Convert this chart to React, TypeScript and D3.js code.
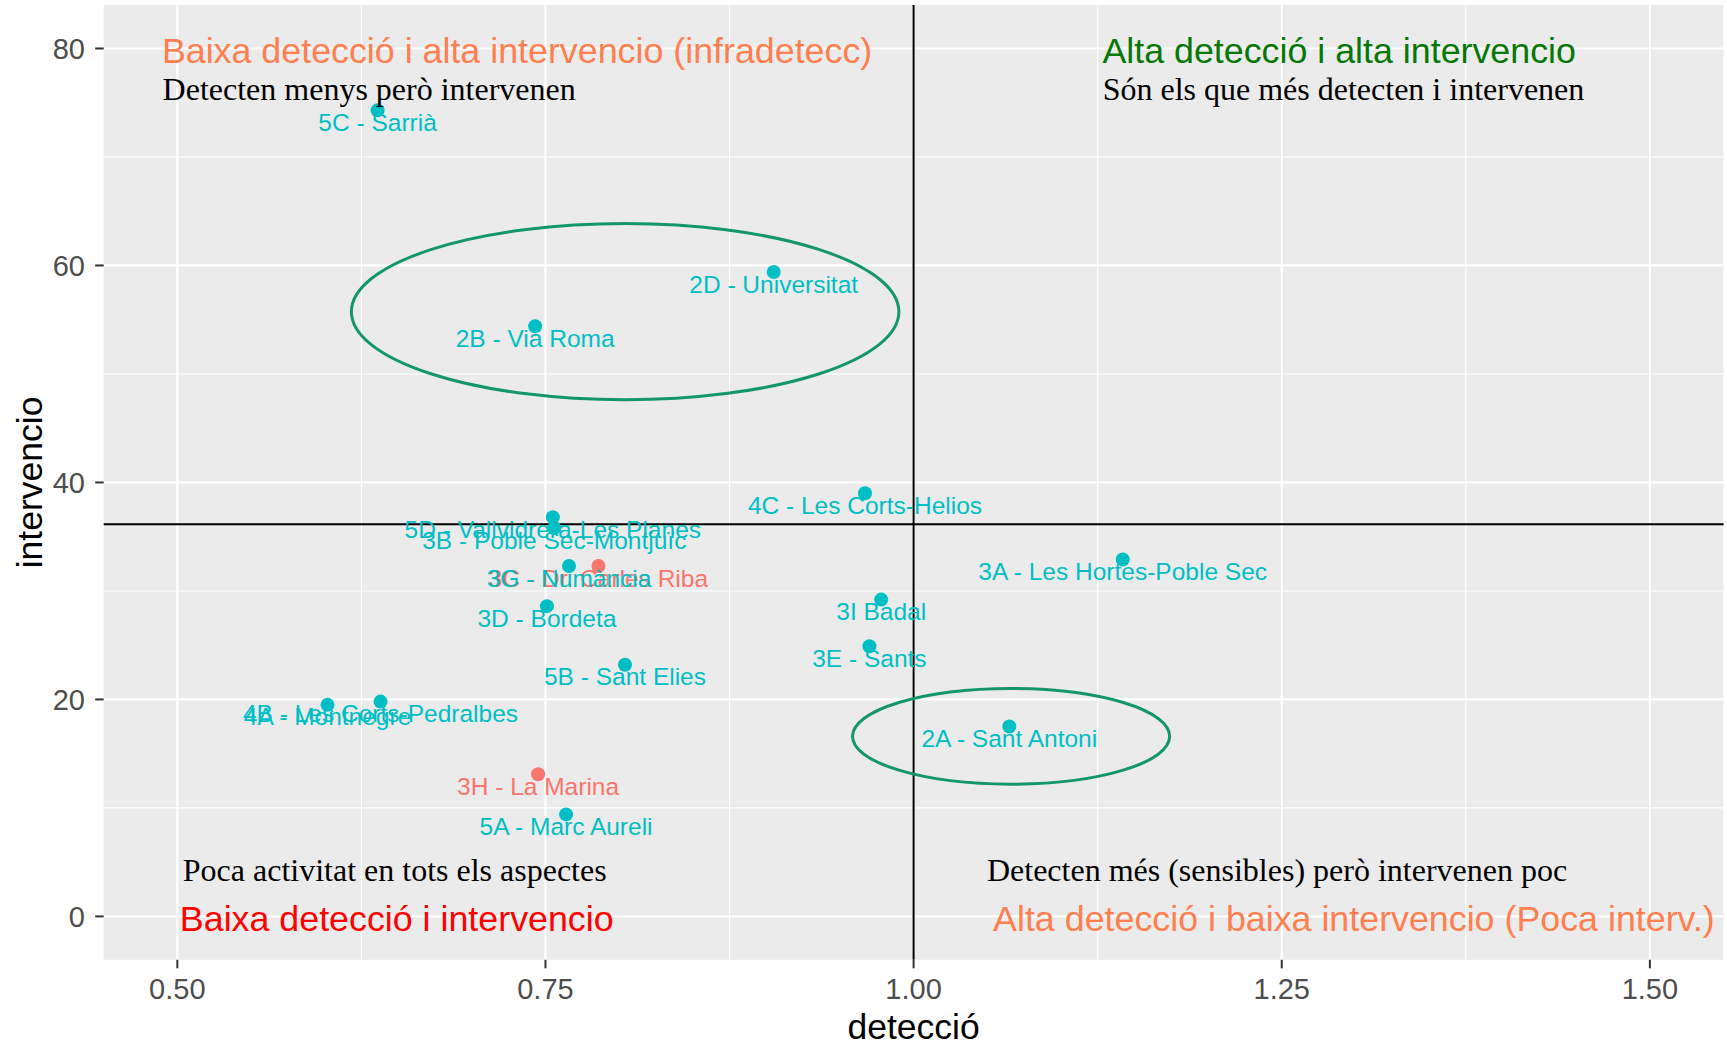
import * as d3 from "d3";

// centres: detecció (x) vs intervencio (y)
const centres = [
  "5C - Sarrià",
  "2D - Universitat",
  "2B - Via Roma",
  "4C - Les Corts-Helios",
  "5D - Vallvidrera-Les Planes",
  "3B - Poble Sec-Montjuïc",
  "3C - Dr. Carles Riba",
  "3G - Numància",
  "3D - Bordeta",
  "3A - Les Hortes-Poble Sec",
  "3I Badal",
  "3E - Sants",
  "5B - Sant Elies",
  "4A - Montnegre",
  "4B - Les Corts-Pedralbes",
  "2A - Sant Antoni",
  "3H - La Marina",
  "5A - Marc Aureli",
];
const deteccio = [
  0.636, 0.905, 0.743, 0.967, 0.755, 0.756, 0.786, 0.766, 0.751, 1.142, 0.978,
  0.97, 0.804, 0.602, 0.638, 1.065, 0.745, 0.764,
];
const intervencio = [
  74.3, 59.4, 54.4, 39.0, 36.8, 35.8, 32.3, 32.3, 28.6, 32.9, 29.2, 24.9, 23.2,
  19.5, 19.8, 17.5, 13.1, 9.4,
];
const grup = [
  "TRUE", "TRUE", "TRUE", "TRUE", "TRUE", "TRUE", "FALSE", "TRUE", "TRUE",
  "TRUE", "TRUE", "TRUE", "TRUE", "TRUE", "TRUE", "TRUE", "FALSE", "TRUE",
];

const xTicks = [0.5, 0.75, 1.0, 1.25, 1.5];
const xMinor = [0.625, 0.875, 1.125, 1.375];
const yTicks = [0, 20, 40, 60, 80];
const yMinor = [10, 30, 50, 70];

const refX = 1.0;
const refY = 36.14;

// quadrant titles (ggplot annotate, centred)
const quadText = [
  "Baixa detecció i alta intervencio (infradetecc)",
  "Alta detecció i alta intervencio",
  "Baixa detecció i intervencio",
  "Alta detecció i baixa intervencio (Poca interv.)",
];
const quadX = [0.7307, 1.289, 0.649, 1.299];
const quadY = [80, 80, 0, 0];
const quadColour = ["#FF7F50", "#067806", "#FF0000", "#FF7F50"];

// serif notes (left aligned, baseline)
const noteText = [
  "Detecten menys però intervenen",
  "Són els que més detecten i intervenen",
  "Poca activitat en tots els aspectes",
  "Detecten més (sensibles) però intervenen poc",
];
const noteX = [0.49, 1.1284, 0.5037, 1.0498];
const noteY = [75.25, 75.25, 3.26, 3.26];

// highlighted ellipses: centre and radii in data units
const ellCx = [0.8041, 1.0662];
const ellCy = [55.74, 16.6];
const ellRx = [0.1859, 0.1077];
const ellRy = [8.12, 4.415];

const W = 1727;
const H = 1045;
const panel = { left: 103.7, right: 1723.5, top: 5.1, bottom: 959.8 };
const sans = "'Liberation Sans', Arial, sans-serif";
const serif = "'Liberation Serif', 'Times New Roman', serif";

export default function App() {
  const x = d3.scaleLinear().domain([0.45, 1.55]).range([panel.left, panel.right]);
  const y = d3.scaleLinear().domain([-4, 84]).range([panel.bottom, panel.top]);
  const colour = d3
    .scaleOrdinal<string, string>()
    .domain(["FALSE", "TRUE"])
    .range(["#F8766D", "#00BFC4"]);

  const idx = d3.range(centres.length);
  // draw red labels first so teal sits on top like the original
  const labelOrder = [...idx].sort(
    (a, b) => (grup[a] === "FALSE" ? 0 : 1) - (grup[b] === "FALSE" ? 0 : 1)
  );

  return (
    <svg
      width={W}
      height={H}
      style={{ position: "absolute", left: 0, top: 0, background: "#fff" }}
    >
      <rect
        x={panel.left}
        y={panel.top}
        width={panel.right - panel.left}
        height={panel.bottom - panel.top}
        fill="#EBEBEB"
      />
      {/* grid */}
      {xMinor.map((v) => (
        <line key={"xm" + v} x1={x(v)} x2={x(v)} y1={panel.top} y2={panel.bottom} stroke="#fff" strokeWidth={1.1} />
      ))}
      {yMinor.map((v) => (
        <line key={"ym" + v} x1={panel.left} x2={panel.right} y1={y(v)} y2={y(v)} stroke="#fff" strokeWidth={1.1} />
      ))}
      {xTicks.map((v) => (
        <line key={"xg" + v} x1={x(v)} x2={x(v)} y1={panel.top} y2={panel.bottom} stroke="#fff" strokeWidth={2.2} />
      ))}
      {yTicks.map((v) => (
        <line key={"yg" + v} x1={panel.left} x2={panel.right} y1={y(v)} y2={y(v)} stroke="#fff" strokeWidth={2.2} />
      ))}

      {/* reference lines */}
      <line x1={x(refX)} x2={x(refX)} y1={panel.top} y2={panel.bottom} stroke="#000" strokeWidth={2} />
      <line x1={panel.left} x2={panel.right} y1={y(refY)} y2={y(refY)} stroke="#000" strokeWidth={2} />

      {/* ellipses */}
      {ellCx.map((cx, i) => (
        <ellipse
          key={"e" + i}
          cx={x(cx)}
          cy={y(ellCy[i])}
          rx={x(cx + ellRx[i]) - x(cx)}
          ry={y(ellCy[i]) - y(ellCy[i] + ellRy[i])}
          fill="none"
          stroke="#14966B"
          strokeWidth={3}
        />
      ))}

      {/* points */}
      {idx.map((i) => (
        <circle key={"p" + i} cx={x(deteccio[i])} cy={y(intervencio[i])} r={7} fill={colour(grup[i])} />
      ))}

      {/* point labels */}
      {labelOrder.map((i) => (
        <text
          key={"l" + i}
          x={x(deteccio[i])}
          y={y(intervencio[i]) + 20.6}
          textAnchor="middle"
          fontFamily={sans}
          fontSize={24.5}
          fill={colour(grup[i])}
        >
          {centres[i]}
        </text>
      ))}

      {/* quadrant titles */}
      {quadText.map((t, i) => (
        <text
          key={"q" + i}
          x={x(quadX[i])}
          y={y(quadY[i])}
          dy="0.4em"
          textAnchor="middle"
          fontFamily={sans}
          fontSize={35.8}
          fill={quadColour[i]}
        >
          {t}
        </text>
      ))}

      {/* notes */}
      {noteText.map((t, i) => (
        <text key={"n" + i} x={x(noteX[i])} y={y(noteY[i])} fontFamily={serif} fontSize={32} fill="#000">
          {t}
        </text>
      ))}

      {/* axes */}
      {xTicks.map((v) => (
        <g key={"xt" + v}>
          <line x1={x(v)} x2={x(v)} y1={panel.bottom} y2={panel.bottom + 8.5} stroke="#333" strokeWidth={2} />
          <text x={x(v)} y={999} textAnchor="middle" fontFamily={sans} fontSize={29} fill="#4D4D4D">
            {d3.format(".2f")(v)}
          </text>
        </g>
      ))}
      {yTicks.map((v) => (
        <g key={"yt" + v}>
          <line x1={panel.left - 8.5} x2={panel.left} y1={y(v)} y2={y(v)} stroke="#333" strokeWidth={2} />
          <text x={85} y={y(v)} dy="0.35em" textAnchor="end" fontFamily={sans} fontSize={29} fill="#4D4D4D">
            {v}
          </text>
        </g>
      ))}
      <text
        x={(panel.left + panel.right) / 2}
        y={1039}
        textAnchor="middle"
        fontFamily={sans}
        fontSize={35.5}
        fill="#000"
      >
        detecció
      </text>
      <text
        transform={`translate(41.5,${(panel.top + panel.bottom) / 2}) rotate(-90)`}
        textAnchor="middle"
        fontFamily={sans}
        fontSize={35.5}
        fill="#000"
      >
        intervencio
      </text>
    </svg>
  );
}
